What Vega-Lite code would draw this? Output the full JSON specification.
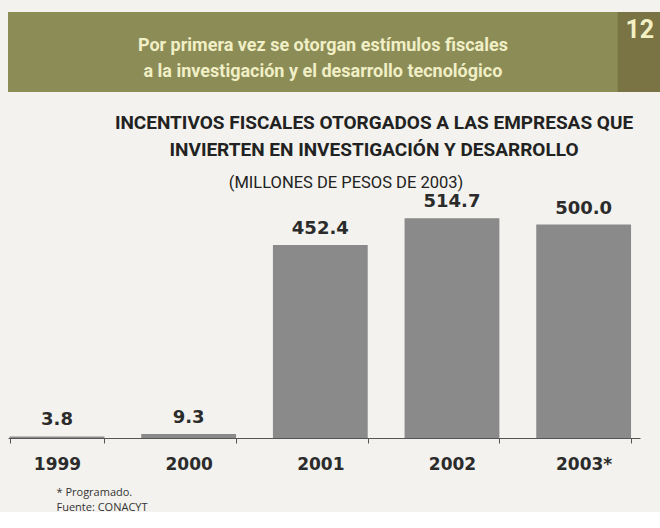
{
  "$schema": "https://vega.github.io/schema/vega-lite/v6.json",
  "background": "#f3f2ee",
  "padding": {"left": 8, "top": 12, "right": 0, "bottom": 0},
  "spacing": 14,
  "config": {"view": {"stroke": null}},
  "vconcat": [
    {
      "width": 652,
      "height": 80,
      "view": {"fill": "#8c8c56", "stroke": null},
      "title": {
        "text": ["INCENTIVOS FISCALES OTORGADOS A LAS EMPRESAS QUE", "INVIERTEN EN INVESTIGACIÓN Y DESARROLLO"],
        "orient": "bottom",
        "anchor": "middle",
        "baseline": "top",
        "dx": 40,
        "offset": 22,
        "font": "Roboto",
        "fontSize": 19,
        "fontWeight": "bold",
        "lineHeight": 27,
        "color": "#222222"
      },
      "data": {"values": [{"tema": "Por primera vez se otorgan estímulos fiscales\na la investigación y el desarrollo tecnológico", "numero": "12"}]},
      "layer": [
        {
          "mark": {"type": "rect", "color": "#7a7444"},
          "encoding": {
            "x": {"datum": 0.935, "type": "quantitative", "scale": {"domain": [0, 1]}, "axis": null},
            "x2": {"datum": 1},
            "y": {"datum": 0, "type": "quantitative", "scale": {"domain": [0, 1]}, "axis": null},
            "y2": {"datum": 1}
          }
        },
        {
          "mark": {"type": "text", "color": "#f0efc6", "font": "Roboto", "fontSize": 18, "fontWeight": "bold", "lineBreak": "\n", "lineHeight": 26, "align": "center", "baseline": "middle"},
          "encoding": {
            "x": {"datum": 0.483, "type": "quantitative"},
            "y": {"datum": 0.58, "type": "quantitative"},
            "text": {"field": "tema"}
          }
        },
        {
          "mark": {"type": "text", "color": "#f3f1c4", "font": "Roboto", "fontSize": 25, "fontWeight": "bold", "align": "center", "baseline": "middle"},
          "encoding": {
            "x": {"datum": 0.969, "type": "quantitative"},
            "y": {"datum": 0.78, "type": "quantitative"},
            "text": {"field": "numero"}
          }
        }
      ]
    },
    {
      "width": 632,
      "height": 239,
      "title": {
        "text": "(MILLONES DE PESOS DE 2003)",
        "anchor": "middle",
        "dx": 22,
        "offset": 2,
        "font": "Roboto",
        "fontSize": 16.5,
        "fontWeight": "normal",
        "color": "#222222"
      },
      "data": {"values": [
        {"anio": "1999", "valor": 3.8},
        {"anio": "2000", "valor": 9.3},
        {"anio": "2001", "valor": 452.4},
        {"anio": "2002", "valor": 514.7},
        {"anio": "2003*", "valor": 500.0}
      ]},
      "encoding": {
        "x": {
          "field": "anio",
          "type": "ordinal",
          "sort": null,
          "scale": {"paddingInner": 0.28, "paddingOuter": 0.04, "align": 0.15},
          "axis": {
            "title": ["* Programado.", "Fuente: CONACYT"],
            "titleFont": "Open Sans",
            "titleFontSize": 11,
            "titleFontWeight": "normal",
            "titleColor": "#333333",
            "titleAnchor": "start",
            "titleAlign": "left",
            "titleBaseline": "alphabetic",
            "titleX": 48,
            "titleY": 57,
            "titleLineHeight": 15,
            "labelFont": "DejaVu Sans",
            "labelFontSize": 17,
            "labelFontWeight": "bold",
            "labelColor": "#2b2b2b",
            "labelAngle": 0,
            "labelPadding": 13,
            "domainColor": "#555555",
            "domainWidth": 1.2,
            "tickColor": "#555555",
            "tickBand": "extent",
            "tickSize": 5
          }
        },
        "y": {"field": "valor", "type": "quantitative", "scale": {"domain": [0, 560]}, "axis": null}
      },
      "layer": [
        {"mark": {"type": "bar", "color": "#8a8a8a"}},
        {
          "mark": {"type": "text", "baseline": "bottom", "dy": -7, "font": "DejaVu Sans", "fontSize": 18, "fontWeight": "bold", "color": "#2b2b2b"},
          "encoding": {"text": {"field": "valor", "type": "quantitative", "format": ".1f"}}
        }
      ]
    }
  ]
}
